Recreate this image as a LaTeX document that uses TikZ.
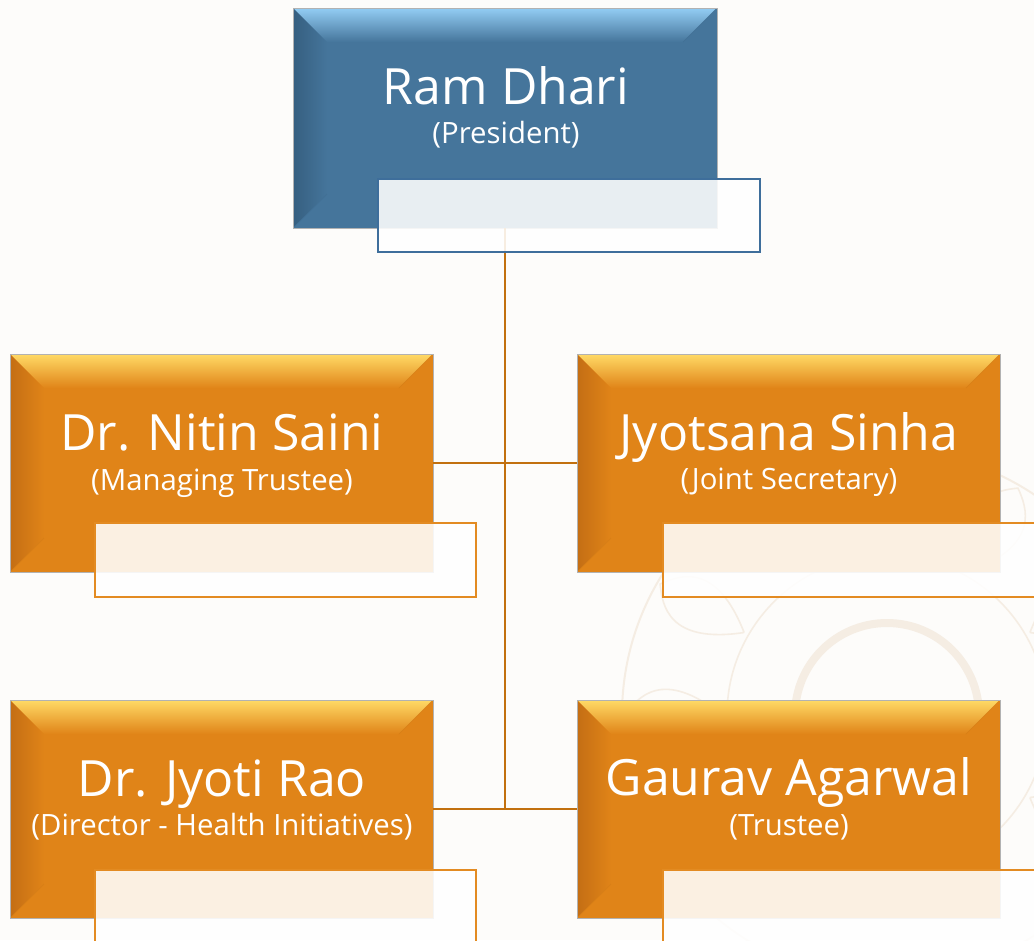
\documentclass[tikz,border=0pt]{standalone}
\usepackage{fontspec}
\setmainfont{Open Sans}[Ligatures=NoCommon]
\usetikzlibrary{calc}
\definecolor{bg}{HTML}{FDFCFA}
\definecolor{bluemain}{HTML}{45759B}
\definecolor{bluelight}{HTML}{93CDF4}
\definecolor{bluemid}{HTML}{5A8DB6}
\definecolor{bluedark}{HTML}{365F80}
\definecolor{bluestroke}{HTML}{3E6E9B}
\definecolor{orgmain}{HTML}{E08418}
\definecolor{orglight}{HTML}{FFDA66}
\definecolor{orgmid}{HTML}{F59C2C}
\definecolor{orgdark}{HTML}{C46E14}
\definecolor{orgstroke}{HTML}{E38B22}
\definecolor{linkcol}{HTML}{C2700E}
\definecolor{mandala}{HTML}{F5EDE3}
\newcommand\bevelpaint[4]{%
  \coordinate (bNW) at (path picture bounding box.north west);
  \coordinate (bNE) at (path picture bounding box.north east);
  \coordinate (bSW) at (path picture bounding box.south west);
  \coordinate (bSE) at (path picture bounding box.south east);
  \fill[#1] (bNW) rectangle (bSE);
  \shade[top color=#2, middle color=#3, bottom color=#1]
    (bNW) -- (bNE) -- ($(bNE)+(-34,34)$) -- ($(bNW)+(34,34)$) -- cycle;
  \shade[left color=#4, right color=#1]
    (bNW) -- ($(bNW)+(34,34)$) -- ($(bSW)+(34,-34)$) -- (bSW) -- cycle;
  \draw[#1!96!black, line width=0.4pt] ($(bNE)+(-34,34)$) -- (bNE);
  \draw[#1!96!black, line width=0.4pt] ($(bSW)+(34,-34)$) -- (bSW);
  \draw[white, line width=1pt] (bNW) -- (bNE);
}
\tikzset{
  x=0.75pt, y=-0.75pt,
  membox/.style={rectangle, inner sep=0pt, minimum width=317.25pt, minimum height=163.5pt,
    draw=black!30, line width=0.6pt},
  orgbox/.style={membox, path picture={\bevelpaint{orgmain}{orglight}{orgmid}{orgdark}}},
  bluebox/.style={membox, minimum width=318pt, minimum height=165pt,
    path picture={\bevelpaint{bluemain}{bluelight}{bluemid}{bluedark}}},
  tag/.style={rectangle, inner sep=0pt, minimum width=285.75pt, minimum height=55.5pt,
    fill=white, fill opacity=0.88, line width=1.5pt},
  title/.style={text=white, font=\fontsize{37.5}{40}\selectfont, anchor=base, inner sep=0pt},
  role/.style={text=white, font=\fontsize{22}{24}\selectfont, anchor=base, inner sep=0pt},
  link/.style={draw=linkcol, line width=2.2pt},
  ring/.style={draw=mandala, line width=#1},
}
\begin{document}
\begin{tikzpicture}
\useasboundingbox (0,0) rectangle (1034,940);
\clip (0,0) rectangle (1034,940);
\fill[bg] (0,0) rectangle (1034,940);
% faint background ornament
\draw[ring=6pt] (887,715) circle (92);
\draw[ring=1.2pt] (887,715) circle (160);
\draw[ring=1.5pt] (887,715) circle (265);
\foreach \a in {150,180,210,240,270,300,330,360,390} {
  \draw[ring=1.2pt] ($(887,715)+(\a:165)$) .. controls ($(887,715)+(\a-12:230)$) and ($(887,715)+(\a-4:250)$) .. ($(887,715)+(\a:262)$)
    .. controls ($(887,715)+(\a+4:250)$) and ($(887,715)+(\a+12:230)$) .. ($(887,715)+(\a:165)$);
}
% boxes
\node[bluebox] (ram) at (505,118) {};
\node[orgbox] (nitin) at (221.5,463) {};
\node[orgbox] (jyotsana) at (788.5,463) {};
\node[orgbox] (rao) at (221.5,809) {};
\node[orgbox] (gaurav) at (788.5,809) {};
% connectors
\coordinate (junction) at (ram.south |- rao.east);
\draw[link] (ram.south) -- (junction);
\draw[link] (nitin.east) -- (jyotsana.west);
\draw[link] (rao.east) -- (gaurav.west);
% tags
\node[tag, draw=bluestroke, minimum width=286.5pt, minimum height=54.75pt] (ramtag) at (569,215.5) {};
\node[tag, draw=orgstroke] (nitintag) at (285.5,560) {};
\node[tag, draw=orgstroke] (jyotsanatag) at (853.5,560) {};
\node[tag, draw=orgstroke] (raotag) at (285.5,907) {};
\node[tag, draw=orgstroke] (gauravtag) at (853.5,907) {};
% texts
\node[title] (ramname) at (506,104) {Ram Dhari};
\node[role] (ramrole) at (506,143) {(President)};
\node[title] (nitinname) at (222,450) {Dr. Nitin Saini};
\node[role] (nitinrole) at (222,490) {(Managing Trustee)};
\node[title] (jyotsananame) at (789,450) {Jyotsana Sinha};
\node[role] (jyotsanarole) at (789,489) {(Joint Secretary)};
\node[title] (raoname) at (222,796) {Dr. Jyoti Rao};
\node[role] (raorole) at (222,835) {(Director - Health Initiatives)};
\node[title] (gauravname) at (789,795) {Gaurav Agarwal};
\node[role] (gauravrole) at (789,835) {(Trustee)};
\end{tikzpicture}
\end{document}
